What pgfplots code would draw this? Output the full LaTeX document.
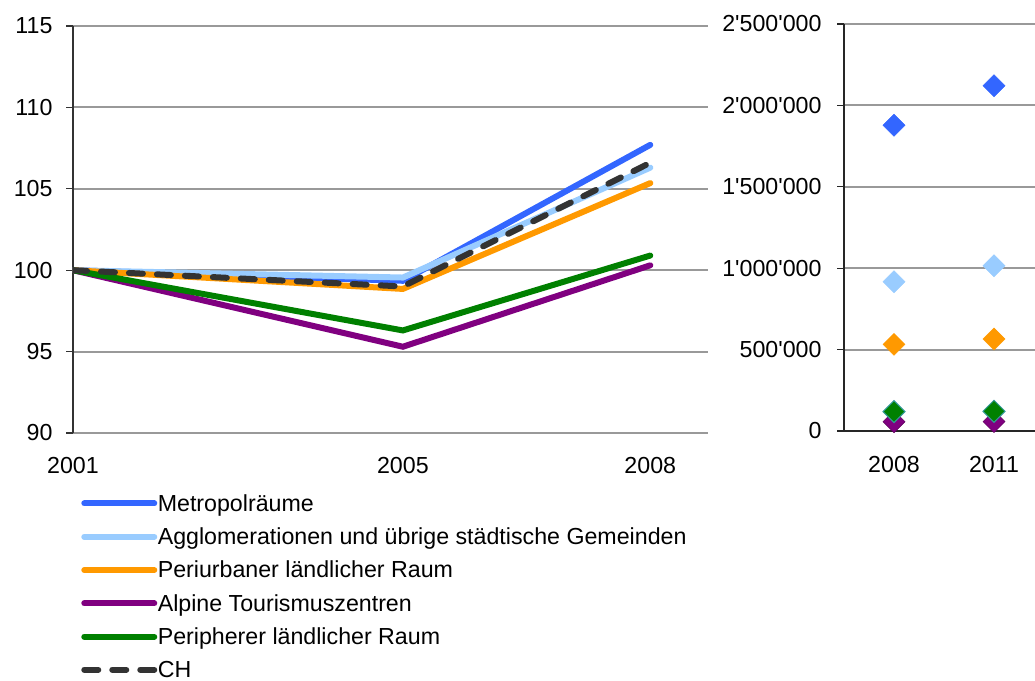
\documentclass[border=0pt]{standalone}
\usepackage{fontspec}
\setmainfont{Liberation Sans}
\usepackage{pgfplots}
\pgfplotsset{compat=1.18}
\definecolor{cMet}{HTML}{3366FF}
\definecolor{cAgg}{HTML}{99CCFF}
\definecolor{cPer}{HTML}{FF9900}
\definecolor{cAlp}{HTML}{800080}
\definecolor{cPph}{HTML}{008000}
\definecolor{cCH}{HTML}{333333}
\definecolor{cGrid}{HTML}{999999}
\begin{document}
\begin{tikzpicture}
\useasboundingbox (0pt,0pt) rectangle (1035pt,-680pt);
\pgfplotsset{
  every axis/.append style={
    scale only axis,
    /pgf/number format/assume math mode=true,
    tick label style={font=\fontsize{23.2}{23}\selectfont},
    ymajorgrids,
    grid style={draw=cGrid, line width=2pt},
    tick align=outside,
    major tick length=7pt,
  }
}
\begin{axis}[
  at={(73pt,-433pt)}, anchor=south west,
  width=635pt, height=407pt,
  xmin=2001, xmax=2008.7, ymin=90, ymax=115,
  xtick={2001,2005,2008}, xticklabels={2001,2005,2008},
  ytick={90,95,100,105,110,115},
  axis x line*=bottom, axis y line*=left,
  x axis line style={draw=none},
  xtick style={draw=none},
  y axis line style={draw=black!80, line width=1.3pt},
  ytick style={draw=black!80, line width=1.3pt},
  xticklabel style={yshift=-14pt},
  yticklabel style={xshift=-10pt},
  legend style={at={(0.008,-0.144)}, anchor=north west, draw=none, fill=none,
    font=\fontsize{23.2}{23}\selectfont, row sep=14.0pt,
    nodes={inner sep=0.5pt}},
  legend cell align=left,
  legend image code/.code={\draw[#1] (0pt,0pt) -- (70pt,0pt);},
]
\addplot[cMet, line width=6pt, line cap=round] coordinates {(2001,100) (2005,99.35) (2008,107.7)};
\addlegendentry{Metropolräume}
\addplot[cAgg, line width=6pt, line cap=round] coordinates {(2001,100) (2005,99.55) (2008,106.3)};
\addlegendentry{Agglomerationen und übrige städtische Gemeinden}
\addplot[cPer, line width=6pt, line cap=round] coordinates {(2001,100) (2005,98.85) (2008,105.35)};
\addlegendentry{Periurbaner ländlicher Raum}
\addplot[cAlp, line width=6pt, line cap=round] coordinates {(2001,100) (2005,95.3) (2008,100.3)};
\addlegendentry{Alpine Tourismuszentren}
\addplot[cPph, line width=6pt, line cap=round] coordinates {(2001,100) (2005,96.3) (2008,100.9)};
\addlegendentry{Peripherer ländlicher Raum}
\addplot[cCH, line width=6pt, line cap=round, dash pattern=on 14pt off 14pt] coordinates {(2001,100) (2005,99.0) (2008,106.6)};
\addlegendentry{CH}
\end{axis}
\begin{axis}[
  at={(844pt,-431pt)}, anchor=south west,
  width=191pt, height=407pt,
  xmin=0, xmax=1.91, ymin=0, ymax=2500000,
  xtick={0.5,1.5}, xticklabels={2008,2011},
  ytick={0,500000,1000000,1500000,2000000,2500000},
  yticklabels={0,500\textquotesingle000,1\textquotesingle000\textquotesingle000,1\textquotesingle500\textquotesingle000,2\textquotesingle000\textquotesingle000,2\textquotesingle500\textquotesingle000},
  scaled y ticks=false,
  axis x line*=bottom, axis y line*=left,
  axis line style={draw=black!85, line width=1.3pt},
  xtick style={draw=none},
  ytick style={draw=black!85, line width=1.3pt},
  xticklabel style={yshift=-15pt},
  yticklabel style={xshift=-12pt},
  clip=false,
]
\addplot[only marks, mark=square*, mark size=7.8pt, mark options={rotate=45, draw=cMet, fill=cMet}] coordinates {(0.5,1878000) (1.5,2121000)};
\addplot[only marks, mark=square*, mark size=7.8pt, mark options={rotate=45, draw=cAgg, fill=cAgg}] coordinates {(0.5,917000) (1.5,1015000)};
\addplot[only marks, mark=square*, mark size=7.8pt, mark options={rotate=45, draw=cPer, fill=cPer}] coordinates {(0.5,532000) (1.5,565000)};
\addplot[only marks, mark=square*, mark size=7.8pt, mark options={rotate=45, draw=cAlp!70!black, fill=cAlp}] coordinates {(0.5,57000) (1.5,58000)};
\addplot[only marks, mark=square*, mark size=7.8pt, mark options={rotate=45, draw=teal!80, fill=cPph, line width=1pt}] coordinates {(0.5,119000) (1.5,121000)};
\end{axis}
\end{tikzpicture}
\end{document}
